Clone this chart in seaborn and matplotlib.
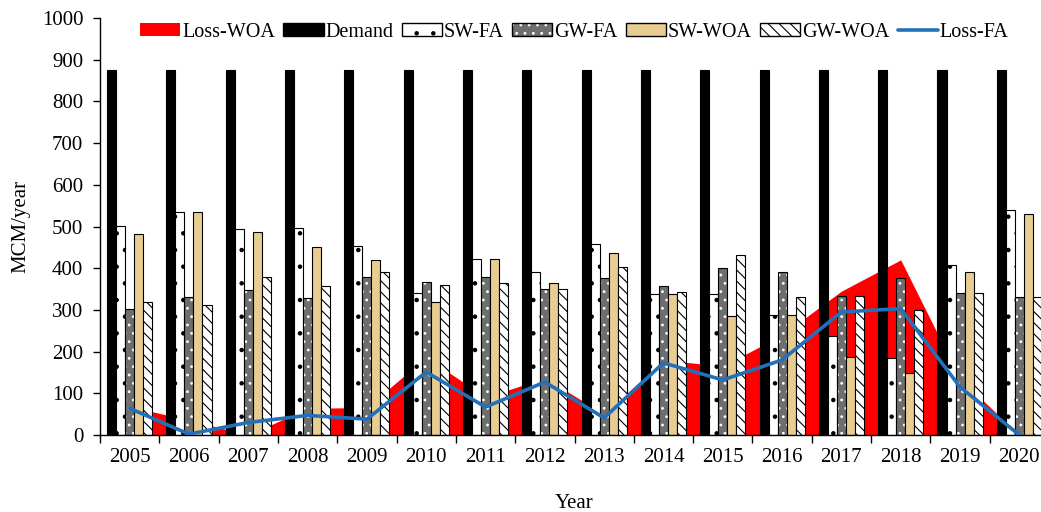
import numpy as np
import pandas as pd
import matplotlib
matplotlib.use("Agg")
import matplotlib.pyplot as plt
import matplotlib.colors as mcolors
import seaborn as sns
from matplotlib.patches import Patch
from matplotlib.lines import Line2D

# values (MCM/year)
years = ["2005", "2006", "2007", "2008", "2009", "2010", "2011", "2012",
         "2013", "2014", "2015", "2016", "2017", "2018", "2019", "2020"]
demand = [875, 875, 875, 875, 875, 875, 875, 875,
          875, 875, 875, 875, 875, 875, 875, 875]
sw_fa = [501, 535, 494, 496, 453, 340, 422, 391, 458, 338, 338, 288, 237, 185, 408, 540]
gw_fa = [302, 332, 348, 328, 379, 367, 379, 350, 376, 357, 400, 391, 333, 376, 340, 331]
sw_woa = [482, 535, 487, 451, 420, 319, 422, 365, 436, 338, 285, 288, 187, 149, 390, 530]
gw_woa = [319, 312, 380, 358, 391, 360, 364, 350, 403, 343, 432, 331, 333, 300, 340, 331]
loss_woa = [68, 36, 0, 64, 66, 187, 90, 137, 50, 180, 165, 240, 345, 420, 135, 0]
loss_fa = [64, 2, 30, 47, 38, 151, 67, 127, 41, 173, 132, 180, 295, 303, 115, 0]

bar_series = ["Demand", "SW-FA", "GW-FA", "SW-WOA", "GW-WOA"]
bar_colors = ["black", "white", "#6e6e6e", "#e8cd93", "white"]
bar_hatches = [None, ".", "..", None, "\\\\\\"]
area_color = "#ff0000"
line_color = "#2270b8"

df = pd.DataFrame({
    "Year": years * 5,
    "value": demand + sw_fa + gw_fa + sw_woa + gw_woa,
    "series": sum([[s] * len(years) for s in bar_series], []),
})

sns.set_theme(style="white")
plt.rcParams["font.family"] = ["Liberation Serif", "DejaVu Serif"]
plt.rcParams["hatch.linewidth"] = 0.8
for key in ["text.color", "axes.labelcolor", "xtick.color", "ytick.color"]:
    plt.rcParams[key] = "black"

fig = plt.figure(figsize=(10.41, 5.12), dpi=100)
ax = fig.add_axes([100 / 1041, 77 / 512, 949 / 1041, 417 / 512])

sns.barplot(data=df, x="Year", y="value", hue="series", hue_order=bar_series,
            palette=bar_colors, saturation=1, width=0.76, gap=0,
            edgecolor="black", linewidth=0.8, errorbar=None, legend=False, ax=ax)

for cont, hatch in zip(ax.containers, bar_hatches):
    for bar in cont:
        bar.set_zorder(2)
        if hatch:
            bar.set_hatch(hatch)
# white dots on the grey GW-FA bars
for bar in ax.containers[2]:
    bar._hatch_color = mcolors.to_rgba("white")
    bar.stale = True

xpos = np.arange(len(years))
ax.fill_between(xpos, loss_woa, color=area_color, lw=0, zorder=1)
sns.lineplot(x=xpos, y=loss_fa, color=line_color, lw=2.6, ax=ax, zorder=4)

ax.set_xlim(-0.5, len(years) - 0.5)
ax.set_ylim(0, 1000)
ax.set_yticks(range(0, 1001, 100))
ax.set_xticks(xpos)
ax.set_xticklabels(years)
ax.set_xticks(np.arange(-0.5, len(years)), minor=True)
ax.tick_params(axis="x", which="major", length=0, pad=9, labelsize=15)
ax.tick_params(axis="x", which="minor", length=6, width=1, direction="out",
               bottom=True, color="black")
ax.tick_params(axis="y", length=5, width=1, direction="out", left=True,
               pad=7, labelsize=15, color="black")

for side in ["top", "right"]:
    ax.spines[side].set_visible(False)
for side in ["left", "bottom"]:
    ax.spines[side].set_color("black")
    ax.spines[side].set_linewidth(1)

ax.set_xlabel("Year", fontsize=15, labelpad=20)
ax.set_ylabel("MCM/year", fontsize=15, labelpad=8)

gw_fa_handle = Patch(facecolor="#6e6e6e", edgecolor="black", hatch="..")
gw_fa_handle._hatch_color = mcolors.to_rgba("white")
handles = [
    Patch(facecolor=area_color, edgecolor="none"),
    Patch(facecolor="black", edgecolor="black"),
    Patch(facecolor="white", edgecolor="black", hatch="."),
    gw_fa_handle,
    Patch(facecolor="#e8cd93", edgecolor="black"),
    Patch(facecolor="white", edgecolor="black", hatch="\\\\\\"),
    Line2D([], [], color=line_color, lw=2.6),
]
labels = ["Loss-WOA", "Demand", "SW-FA", "GW-FA", "SW-WOA", "GW-WOA", "Loss-FA"]
ax.legend(handles, labels, loc="center", bbox_to_anchor=(0.5, 0.966), ncol=7,
          frameon=False, fontsize=14.5, handlelength=2.0, handleheight=0.6,
          handletextpad=0.1, columnspacing=0.4, borderaxespad=0)

fig.savefig("out.png", dpi=100)
